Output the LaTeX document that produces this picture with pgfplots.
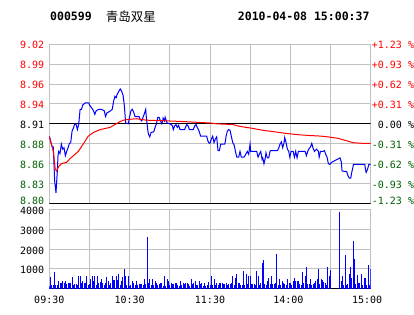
\documentclass[border=0pt]{standalone}
\usepackage{pgfplots}
\pgfplotsset{compat=1.18}
\usepackage{fontspec}
\setmainfont{DejaVu Sans}
\setmonofont{DejaVu Sans Mono}
\newfontfamily\cjk{Noto Sans CJK SC}
\definecolor{dkgreen}{RGB}{0,96,0}
\definecolor{gridgray}{RGB}{192,192,192}
\definecolor{pred}{RGB}{255,0,0}
\definecolor{pblue}{RGB}{0,0,255}

\pgfplotstableread{
m p
0 8.893
2 8.879
3 8.878
4 8.831
5 8.815
6 8.845
6.5 8.866
7 8.872
8 8.869
9 8.882
10 8.875
11 8.877
12 8.866
13 8.872
14 8.877
15 8.883
16 8.884
17 8.900
18 8.904
19 8.910
20 8.909
21 8.902
22 8.910
23 8.930
24 8.930
25 8.936
27 8.939
29.5 8.939
30 8.936
32 8.931
33 8.928
34 8.923
35 8.928
37 8.930
39 8.930
41 8.928
42 8.920
43 8.925
45 8.927
47 8.930
48 8.941
49 8.948
50 8.946
50.5 8.950
52 8.955
53 8.958
54 8.955
55 8.950
56 8.936
57 8.911
59 8.910
60 8.920
61 8.928
62 8.930
63 8.926
64 8.920
67 8.920
68 8.916
69 8.914
70 8.919
71 8.924
72 8.930
72.5 8.918
73 8.910
73.5 8.902
74 8.896
75 8.892
76 8.898
78 8.899
79 8.905
80 8.910
81 8.919
82 8.919
83 8.914
84 8.910
84.5 8.913
85 8.918
86 8.914
86.5 8.919
87 8.916
88 8.911
90 8.910
91 8.909
92 8.907
92.6 8.902
93.6 8.907
94.6 8.909
95.6 8.905
96.6 8.908
97.6 8.902
101 8.902
102.6 8.909
103.6 8.907
104.6 8.902
107.5 8.902
108.6 8.907
109.6 8.909
110.5 8.905
111.6 8.901
112.5 8.896
113 8.893
117.5 8.893
118.5 8.886
119.5 8.883
120.2 8.884
121 8.889
122 8.893
123 8.884
124 8.889
125 8.892
126 8.873
127 8.873
128 8.882
131 8.882
131.5 8.886
132 8.893
133 8.900
134 8.902
135 8.901
136 8.892
137 8.884
138 8.881
139 8.872
140 8.864
141.4 8.864
142.4 8.872
143.4 8.864
145.4 8.864
146.4 8.867
147.9 8.872
148.9 8.868
149.9 8.882
150.4 8.872
154.9 8.872
155.9 8.864
156.8 8.868
157.9 8.872
158.9 8.861
159.4 8.863
160.3 8.855
161.3 8.863
161.8 8.870
162.8 8.863
163.9 8.863
164.8 8.872
165.4 8.873
170.3 8.873
171.4 8.877
172.3 8.882
173.3 8.885
174.3 8.877
175.3 8.884
175.8 8.891
176.8 8.884
177.8 8.875
178.8 8.872
179.6 8.864
180.6 8.872
182.1 8.872
183 8.864
184 8.872
185 8.863
186 8.872
191 8.872
192 8.866
193 8.872
194 8.876
195 8.878
196 8.883
197 8.876
198 8.872
199.5 8.875
201 8.872
201.5 8.864
202.5 8.872
204.5 8.872
205.5 8.873
206.4 8.868
207.4 8.864
208.4 8.855
209.4 8.854
210.9 8.857
217.1 8.863
218.1 8.857
218.6 8.845
222.1 8.844
223.1 8.838
224.1 8.835
225.1 8.835
225.6 8.841
226.6 8.849
227.1 8.854
235.6 8.854
236.1 8.847
236.6 8.843
237.6 8.847
238.6 8.854
240 8.854
}\pricetable

\pgfplotstableread{
m p
0 8.893
3 8.872
4.5 8.847
5.5 8.845
7 8.851
9 8.855
13 8.857
15.5 8.862
18 8.866
21.7 8.872
24.2 8.879
26.7 8.886
29.1 8.893
32.9 8.898
37.9 8.902
45.3 8.905
49.1 8.909
52.8 8.913
55.3 8.915
58.8 8.916
65 8.917
72.4 8.915
88.6 8.914
101 8.913
121 8.911
124.7 8.910
137.2 8.909
140.9 8.907
147.1 8.905
150.9 8.904
159.6 8.901
168.3 8.899
175.8 8.897
180.7 8.896
185.7 8.895
193.2 8.894
203.1 8.893
208.1 8.892
215.6 8.890
223.1 8.886
226.8 8.884
234.3 8.883
240 8.883
}\avgtable

\pgfplotstableread{
m v
0 130
1 570
2 170
3 200
4 820
5 170
6 170
7 370
8 300
9 300
10 370
11 300
12 370
13 230
14 270
15 270
16 300
17 570
18 170
19 230
20 230
21 200
22 620
23 620
24 300
25 400
26 300
27 300
28 620
29 200
30 230
31 470
32 620
33 370
34 620
35 170
36 650
37 300
38 330
39 500
40 300
41 200
42 300
43 570
44 370
45 170
46 300
47 620
48 430
49 430
50 650
51 430
52 720
53 200
54 370
55 600
56 970
57 620
58 170
59 650
60 130
61 170
62 370
63 300
64 170
65 370
66 170
67 230
68 230
69 230
70 200
71 470
72 230
73 2620
74 270
75 500
76 200
77 470
78 170
79 370
80 300
81 200
82 230
83 300
84 300
85 130
86 620
87 130
88 500
89 370
90 170
91 270
92 230
93 230
94 300
95 300
96 170
97 130
98 400
99 170
100 300
101 230
102 300
103 300
104 230
105 130
106 500
107 230
108 300
109 370
110 200
111 170
112 400
113 230
114 270
115 130
116 270
117 130
118 170
119 350
120 170
121 620
122 170
123 500
124 170
125 300
126 170
127 300
128 300
129 300
130 230
131 230
132 300
133 170
134 230
135 230
136 300
137 650
138 170
139 530
140 720
141 300
142 300
143 170
144 170
145 870
146 170
147 720
148 230
149 620
150 650
151 230
152 230
153 230
154 170
155 870
156 620
157 170
158 300
159 1270
160 1420
161 230
162 170
163 370
164 530
165 230
166 620
167 230
168 230
169 300
170 1770
171 170
172 470
173 170
174 400
175 300
176 230
177 170
178 500
179 270
180 270
181 170
182 400
183 530
184 400
185 400
186 400
187 230
188 170
189 820
190 300
191 620
192 1070
193 230
194 230
195 500
196 170
197 230
198 300
199 370
200 470
201 1000
202 230
203 470
204 430
205 330
206 270
207 170
208 1100
209 620
210 920
217 3870
218 370
219 620
220 170
221 1700
222 170
223 230
224 720
225 1100
226 530
227 2420
228 1470
229 230
230 670
231 300
232 300
233 750
234 170
235 550
236 520
237 170
238 1170
239 170
240 1000
}\voltable

\begin{document}
\begin{tikzpicture}
\path[use as bounding box] (0,0) rectangle (414pt,314pt);
\pgfplotsset{
  common/.style={
    scale only axis, width=321.4pt, xmin=0, xmax=240,
    tick style={draw=none},
    grid=major, major grid style={gridgray, line width=1pt},
    axis line style={gridgray, line width=1pt},
    xtick={0,30,...,240},
    ticklabel style={font=\ttfamily\fontsize{10}{12}\selectfont},
  }
}
% price panel
\begin{axis}[common,
  at={(49.3pt,110.7pt)}, anchor=south west, height=159pt,
  ymin=8.8004, ymax=9.0196,
  xticklabels={},
  ytick={8.8004,8.8278,8.8552,8.8826,8.91,8.9374,8.9648,8.9922,9.0196},
  yticklabels={\raisebox{8pt}{\textcolor{dkgreen}{8.80}},\textcolor{dkgreen}{8.83},\textcolor{dkgreen}{8.86},\textcolor{dkgreen}{8.88},\textcolor{black}{8.91},\textcolor{pred}{8.94},\textcolor{pred}{8.96},\textcolor{pred}{8.99},\raisebox{-4pt}{\textcolor{pred}{9.02}}},
  yticklabel style={inner sep=0pt, xshift=-5pt, yshift=-1pt},
]
\addplot[black, line width=1pt, forget plot] coordinates {(0,8.91) (240,8.91)};
\addplot[black, line width=1pt, forget plot] coordinates {(0,8.8004) (240,8.8004)};
\addplot[pblue, line width=1pt, no marks] table[x=m, y=p] {\pricetable};
\addplot[pred, line width=1pt, no marks] table[x=m, y=p] {\avgtable};
\end{axis}
% right percentage labels
\begin{axis}[
  at={(49.3pt,110.7pt)}, anchor=south west, scale only axis, width=321.4pt, height=159pt,
  xmin=0, xmax=240, ymin=8.8004, ymax=9.0196,
  axis line style={draw=none}, tick style={draw=none},
  xtick=\empty, yticklabel pos=right,
  ytick={8.8004,8.8278,8.8552,8.8826,8.91,8.9374,8.9648,8.9922,9.0196},
  yticklabels={\raisebox{8pt}{\textcolor{dkgreen}{-1.23 \%}},\textcolor{dkgreen}{-0.93 \%},\textcolor{dkgreen}{-0.62 \%},\textcolor{dkgreen}{-0.31 \%},\textcolor{black}{\phantom{+}0.00 \%},\textcolor{pred}{+0.31 \%},\textcolor{pred}{+0.62 \%},\textcolor{pred}{+0.93 \%},\raisebox{-4pt}{\textcolor{pred}{+1.23 \%}}},
  yticklabel style={inner sep=0pt, xshift=1pt, yshift=-1pt, font=\ttfamily\fontsize{10}{12}\selectfont},
]
\end{axis}
% volume panel
\begin{axis}[common,
  at={(49.3pt,25.5pt)}, anchor=south west, height=79pt,
  ymin=0, ymax=4000,
  ytick={0,1000,2000,3000,4000},
  yticklabels={,1000,\raisebox{-1pt}{2000},\raisebox{-2pt}{3000},\raisebox{-4pt}{4000}},
  xticklabels={09:30,,10:30,,11:30,,\hspace{-4pt}14:00,,\hspace{-7pt}15:00},
  yticklabel style={inner sep=0pt, xshift=-5pt, yshift=-1.5pt},
  xticklabel style={inner sep=0pt, yshift=-7pt},
]
\addplot[black, line width=1pt, forget plot] coordinates {(0,0) (240,0)};
\addplot[pblue, ycomb, line width=1pt, no marks] table[x=m, y=v] {\voltable};
\end{axis}
% header
\node[anchor=west, inner sep=0pt, font=\ttfamily\bfseries\fontsize{11.5}{12}\selectfont] at (50pt,297.3pt) {000599};
\node[anchor=west, inner sep=0pt, font=\cjk\fontsize{12.5}{13}\selectfont] at (105.7pt,297.3pt) {青岛双星};
\node[anchor=west, inner sep=0pt, font=\ttfamily\bfseries\fontsize{11.5}{12}\selectfont] at (237.7pt,297.3pt) {2010-04-08 15:00:37};
\end{tikzpicture}
\end{document}
